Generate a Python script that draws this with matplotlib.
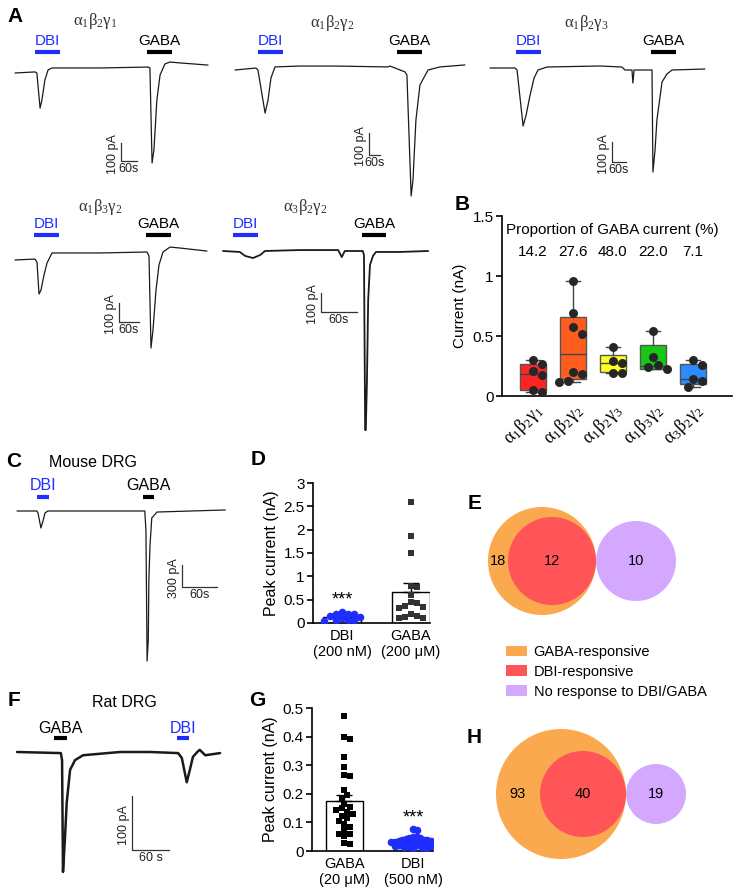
import matplotlib
matplotlib.use('Agg')
import matplotlib.pyplot as plt
import numpy as np
from matplotlib.patches import Circle, Patch

plt.rcParams['font.family'] = ['Liberation Sans', 'DejaVu Sans']
plt.rcParams['mathtext.fontset'] = 'stix'

# ---------------- data ----------------
# Panel A traces: time (s), current (pA)
A1_t = [0, 75, 82, 94, 101, 112, 124, 139, 319, 499, 506, 514, 521, 532, 544, 562, 581, 619, 724]
A1_i = [0, 6, 0, -195, -150, -39, 17, 28, 28, 33, 28, -500, -428, -150, -11, 50, 61, 56, 44]
A2_t = [0, 114, 125, 164, 180, 196, 218, 354, 545, 834, 845, 927, 937, 960, 970, 986, 1008, 1052, 1117, 1253]
A2_i = [0, 9, 0, -196, -137, -36, 14, 18, 18, 14, 18, -9, -23, -573, -500, -228, -68, 0, 14, 23]
A3_t = [0, 107, 116, 142, 155, 172, 189, 206, 245, 472, 566, 579, 609, 613, 618, 695, 699, 708, 716, 738, 759, 781, 922]
A3_i = [0, 0, -10, -290, -235, -135, -50, -10, 5, 10, 5, -10, -10, -75, -10, -10, -520, -410, -260, -70, -30, -10, -5]
A4_t = [0, 60, 66, 72, 78, 87, 96, 111, 255, 396, 402, 408, 414, 423, 432, 444, 465, 495, 576]
A4_i = [0, 5, -11, -179, -158, -79, -16, 37, 37, 42, 21, -463, -368, -158, -26, 42, 68, 63, 47]
A5_t = [0, 28, 37, 50, 62, 70, 128, 192, 198, 203, 233, 235, 237, 238, 240, 242, 245, 250, 255, 295, 342]
A5_i = [0, -5, -26, -37, -21, 0, 5, 5, -32, 0, 0, -21, -942, -942, -679, -258, -74, -26, -5, -5, 0]
A_titles = [r'$\mathregular{α_1β_2γ_1}$', r'$\mathregular{α_1β_2γ_2}$', r'$\mathregular{α_1β_2γ_3}$',
            r'$\mathregular{α_1β_3γ_2}$', r'$\mathregular{α_3β_2γ_2}$']
A_dbi_win = [(75, 169), (125, 262), (112, 219), (57, 132), (17, 58)]
A_gaba_win = [(495, 589), (883, 1019), (691, 798), (393, 468), (232, 272)]

# Panel C trace (mouse DRG)
C_t = [0, 34, 36, 41, 45, 48, 53, 219, 221, 223, 225, 226, 228, 231, 240, 357]
C_i = [0, 0, -27, -231, -122, -27, 0, 0, -258, -2040, -1754, -938, -462, -95, -14, 14]
C_dbi_win = (34, 55)
C_gaba_win = (216, 235)

# Panel F trace (rat DRG)
F_t = [0, 71, 73, 74.5, 77.8, 80.5, 86, 94, 107, 167, 215, 261, 267, 275, 280, 285, 292, 296, 305, 329]
F_i = [0, -2, -15, -222, -157, -94, -33, -15, -6, 0, 0, -2, -11, -56, -33, -9, 0, 4, -6, -2]
F_dbi_win = (259, 279)
F_gaba_win = (60, 81)

# Panel B box plots
B_labels = [r'$\mathregular{α_1β_2γ_1}$', r'$\mathregular{α_1β_2γ_2}$', r'$\mathregular{α_1β_2γ_3}$',
            r'$\mathregular{α_1β_3γ_2}$', r'$\mathregular{α_3β_2γ_2}$']
B_q1 = [0.053, 0.144, 0.20, 0.228, 0.103]
B_med = [0.186, 0.353, 0.278, 0.25, 0.144]
B_q3 = [0.27, 0.658, 0.339, 0.422, 0.27]
B_lo = [0.033, 0.117, 0.19, 0.228, 0.075]
B_hi = [0.30, 0.958, 0.408, 0.54, 0.297]
B_pts1 = [0.30, 0.264, 0.208, 0.172, 0.047, 0.033]
B_pts2 = [0.958, 0.69, 0.575, 0.519, 0.2, 0.18, 0.122, 0.117]
B_pts3 = [0.408, 0.292, 0.278, 0.192, 0.192]
B_pts4 = [0.54, 0.325, 0.256, 0.242, 0.228]
B_pts5 = [0.297, 0.256, 0.144, 0.122, 0.075]
B_prop = ['14.2', '27.6', '48.0', '22.0', '7.1']

# Panel D
D_cats = ['DBI\n(200 nM)', 'GABA\n(200 μM)']
D_dbi = [0.236, 0.2, 0.2, 0.186, 0.143, 0.129, 0.1, 0.071, 0.057, 0.057, 0.043]
D_gaba = [2.586, 1.871, 1.5, 0.786, 0.771, 0.6, 0.443, 0.43, 0.371, 0.343, 0.329,
          0.186, 0.157, 0.129, 0.114, 0.1]

# Panel G
G_cats = ['GABA\n(20 μM)', 'DBI\n(500 nM)']
G_gaba = [0.473, 0.40, 0.391, 0.328, 0.295, 0.266, 0.262, 0.213, 0.196, 0.184, 0.166, 0.155,
          0.149, 0.143, 0.135, 0.131, 0.122, 0.114, 0.105, 0.096, 0.084, 0.073, 0.06, 0.059,
          0.053, 0.028, 0.023]
G_dbi = [0.078, 0.075, 0.05, 0.048, 0.045, 0.045, 0.042, 0.04, 0.039, 0.038, 0.036, 0.036,
         0.035, 0.034, 0.033, 0.033, 0.032, 0.031, 0.03, 0.03, 0.028, 0.027, 0.026, 0.025,
         0.024, 0.022, 0.021, 0.02, 0.019, 0.018, 0.016, 0.015, 0.014, 0.012, 0.01]

# Venn counts
E_counts = [18, 12, 10]
H_counts = [93, 40, 19]
venn_labels = ['GABA-responsive', 'DBI-responsive', 'No response to DBI/GABA']

# ---------------- style ----------------
BLUE = '#1f2dff'
TRACE = '#1a1a1a'
BOX_COLORS = ['#ff2424', '#ff5c1f', '#ffff24', '#14c814', '#2b8cff']
VENN_COLORS = ['#fba94f', '#ff5458', '#d5a8ff']
SERIF = ['Liberation Serif', 'DejaVu Serif']

W, H = 738, 896
fig = plt.figure(figsize=(W / 100, H / 100), dpi=100)


def px_axes(l, t, r, b):
    return fig.add_axes([l / W, 1 - b / H, (r - l) / W, (b - t) / H])


def ftext(x, y, s, **kw):
    fig.text(x / W, 1 - y / H, s, **kw)


def draw_trace(box, x0, base, spp, ipp, t, cur, lw, dbi_win, gaba_win, bar_px, lab_px,
               corner_px, vlen, vlabel, hlabel, lab_fs=11, sc_fs=9):
    l, tp, r, b = box
    ax = px_axes(l, tp, r, b)
    ax.set_xlim((l - x0) * spp, (r - x0) * spp)
    ax.set_ylim((base - b) * ipp, (base - tp) * ipp)
    ax.axis('off')
    ax.plot(t, cur, color=TRACE, lw=lw, solid_joinstyle='round', solid_capstyle='round')
    ybar = (base - bar_px) * ipp
    ylab = (base - lab_px) * ipp
    for win, name, col in [(dbi_win, 'DBI', BLUE), (gaba_win, 'GABA', 'black')]:
        ax.plot(win, [ybar, ybar], color=col, lw=3, solid_capstyle='butt', clip_on=False)
        ax.text(np.mean(win), ylab, name, color=col, ha='center', va='center', fontsize=lab_fs)
    cx = (corner_px[0] - x0) * spp
    cy = (base - corner_px[1]) * ipp
    ax.plot([cx, cx, cx + 60], [cy + vlen, cy, cy], color='#333333', lw=0.9)
    ax.text(cx - 2 * spp, cy + vlen / 2 - 2 * ipp, vlabel, rotation=90, ha='right', va='center',
            fontsize=sc_fs, color='#222222')
    ax.text(cx + 30, cy - 2 * ipp, hlabel, ha='center', va='top', fontsize=sc_fs, color='#222222')
    return ax


# ---- Panel A ----
draw_trace((8, 30, 222, 175), 15, 73, 3.75, 5.56, A1_t, A1_i, 0.9, A_dbi_win[0], A_gaba_win[0],
           52, 41, (121, 161), 100, '100 pA', '60s')
draw_trace((228, 30, 476, 200), 235, 70, 5.45, 4.55, A2_t, A2_i, 0.9, A_dbi_win[1], A_gaba_win[1],
           52, 41, (369, 155), 100, '100 pA', '60s')
draw_trace((482, 30, 736, 180), 490, 68, 4.29, 5.0, A3_t, A3_i, 0.9, A_dbi_win[2], A_gaba_win[2],
           52, 41, (612, 162), 100, '100 pA', '60s')
draw_trace((8, 212, 222, 355), 15, 260, 3.0, 5.26, A4_t, A4_i, 0.9, A_dbi_win[3], A_gaba_win[3],
           235, 224, (119, 322), 100, '100 pA', '60s')
draw_trace((216, 212, 440, 436), 223, 251, 1.667, 5.26, A5_t, A5_i, 1.3, A_dbi_win[4], A_gaba_win[4],
           235, 224, (321, 312), 100, '100 pA', '60s')
for (x, y), s in zip([(95, 21), (332, 23), (586, 23), (100, 207), (305, 207)], A_titles):
    ftext(x, y, s, ha='center', va='center', fontsize=12, color='#333333', family=SERIF)

# ---- Panel C ----
draw_trace((8, 478, 236, 666), 17, 511, 1.714, 13.6, C_t, C_i, 0.9, C_dbi_win, C_gaba_win,
           497, 485, (182, 587), 300, '300 pA', '60s', lab_fs=11.5)
ftext(93, 462, 'Mouse DRG', ha='center', va='center', fontsize=11.5)

# ---- Panel F ----
draw_trace((8, 715, 236, 878), 17, 752, 1.62, 1.85, F_t, F_i, 1.8, F_dbi_win, F_gaba_win,
           738, 728, (132, 850), 100, '100 pA', '60 s', lab_fs=11.5)
ftext(124, 702, 'Rat DRG', ha='center', va='center', fontsize=11.5)


def style_axes(ax):
    for s in ['top', 'right']:
        ax.spines[s].set_visible(False)
    for s in ['left', 'bottom']:
        ax.spines[s].set_linewidth(1.2)
    ax.tick_params(axis='y', length=4, width=1.2, labelsize=11, pad=2)
    ax.tick_params(axis='x', length=0, labelsize=10.5, pad=4)


def swarm_offsets(values, y_ppu, x_ppu, d):
    placed = []
    offs = []
    cands = [0.0]
    for j in range(1, 80):
        cands += [j * d * 0.5, -j * d * 0.5]
    for v in values:
        y = v * y_ppu
        chosen = cands[-1]
        for c in cands:
            if all((c - px) ** 2 + (y - py) ** 2 >= d ** 2 for px, py in placed):
                chosen = c
                break
        placed.append((chosen, y))
        offs.append(chosen / x_ppu)
    return np.array(offs)


# ---- Panel B ----
axB = px_axes(502, 216, 732, 396)
stats = [dict(med=m, q1=a, q3=b, whislo=lo, whishi=hi, fliers=[])
         for m, a, b, lo, hi in zip(B_med, B_q1, B_q3, B_lo, B_hi)]
pos = np.arange(1, 6)
bp = axB.bxp(stats, positions=pos, widths=0.66, patch_artist=True, showfliers=False,
             capwidths=0.36,
             boxprops=dict(edgecolor='#555555', linewidth=1.0),
             medianprops=dict(color='#444444', linewidth=1.0),
             whiskerprops=dict(color='#444444', linewidth=1.0),
             capprops=dict(color='#444444', linewidth=1.0))
for patch, c in zip(bp['boxes'], BOX_COLORS):
    patch.set_facecolor(c)
for p, pts in zip(pos, [B_pts1, B_pts2, B_pts3, B_pts4, B_pts5]):
    off = swarm_offsets(pts, 120, 40, 9.5)
    axB.scatter(p + off, pts, s=42, color='#262626', zorder=5, linewidths=0)
axB.set_xlim(0.23, 5.98)
axB.set_ylim(0, 1.5)
axB.set_yticks([0, 0.5, 1, 1.5])
axB.set_yticklabels(['0', '0.5', '1', '1.5'])
axB.set_xticks(pos)
axB.set_xticklabels(B_labels, rotation=45, ha='right', rotation_mode='anchor', fontsize=13,
                    family=SERIF)
style_axes(axB)
axB.tick_params(axis='x', pad=3, labelsize=13)
axB.set_ylabel('Current (nA)', fontsize=11, labelpad=4)
axB.text(3, 1.383, 'Proportion of GABA current (%)', ha='center', va='center', fontsize=11)
for p, s in zip(pos, B_prop):
    axB.text(p, 1.2, s, ha='center', va='center', fontsize=11)


# ---- bar + scatter panels (D, G) ----
def bar_panel(box, ylim, yticks, cats, groups, markers, colors, fills, bar_w, swarm_d,
              sig_idx, sig_y, xlim):
    l, t, r, b = box
    ax = px_axes(l, t, r, b)
    ax.set_xlim(*xlim)
    ax.set_ylim(*ylim)
    y_ppu = (b - t) / (ylim[1] - ylim[0])
    x_ppu = (r - l) / (xlim[1] - xlim[0])
    for k, (vals, mk, col, fc, d) in enumerate(zip(groups, markers, colors, fills, swarm_d)):
        vals = np.asarray(vals)
        mean = vals.mean()
        sem = vals.std(ddof=1) / np.sqrt(len(vals))
        ax.bar(k, mean, width=bar_w, color=fc, edgecolor='black', linewidth=1.0, zorder=1)
        ax.errorbar(k, mean, yerr=[[0], [sem]], color='black', capsize=6, elinewidth=1.0,
                    capthick=1.0, zorder=2)
        off = swarm_offsets(vals, y_ppu, x_ppu, d)
        ax.scatter(k + off, vals, marker=mk, s=24 if mk == 's' else 30, color=col,
                   linewidths=0, zorder=3)
    ax.text(sig_idx, sig_y, '***', ha='center', va='center', fontsize=13)
    ax.set_yticks(yticks)
    ax.set_yticklabels(['0' if v == 0 else ('%g' % v) for v in yticks])
    ax.set_xticks([0, 1])
    ax.set_xticklabels(cats, fontsize=10.5, linespacing=1.25)
    style_axes(ax)
    ax.set_ylabel('Peak current (nA)', fontsize=11.5, labelpad=3)
    return ax


axD = bar_panel((313, 483, 430, 623), (0, 3), [0, 0.5, 1, 1.5, 2, 2.5, 3], D_cats,
                [D_dbi, D_gaba], ['o', 's'], [BLUE, '#333333'], ['white', 'white'], 0.54,
                [6.0, 6.0], 0, 0.49, (-0.42, 1.275))
axG = bar_panel((312, 708, 433, 851), (0, 0.5), [0, 0.1, 0.2, 0.3, 0.4, 0.5], G_cats,
                [G_gaba, G_dbi], ['s', 'o'], ['black', BLUE], ['white', '#e6e6e6'], 0.54,
                [5.5, 3.6], 1, 0.114, (-0.47, 1.29))


# ---- Venn panels ----
def venn(box, tangent_px, radii, counts):
    l, t, r, b = box
    ax = px_axes(l, t, r, b)
    ax.set_xlim(l - tangent_px[0], r - tangent_px[0])
    ax.set_ylim(tangent_px[1] - b, tangent_px[1] - t)
    ax.axis('off')
    ro, rr, rp = radii
    centers = [-ro, -rr, rp]
    for c, rad, col in zip(centers, radii, VENN_COLORS):
        ax.add_patch(Circle((c, 0), rad, color=col, lw=0))
    ax.text(-(ro + rr), 0, str(counts[0]), ha='center', va='center', fontsize=10.5)
    ax.text(-rr, 0, str(counts[1]), ha='center', va='center', fontsize=10.5)
    ax.text(rp, 0, str(counts[2]), ha='center', va='center', fontsize=10.5)
    return ax


venn((470, 495, 720, 625), (596, 561), (54, 44, 40), E_counts)
venn((470, 720, 720, 870), (626, 794), (65, 43, 30), H_counts)

handles = [Patch(facecolor=c, edgecolor='none') for c in VENN_COLORS]
fig.legend(handles, venn_labels, loc='upper left', bbox_to_anchor=(506 / W, 1 - 645 / H),
           frameon=False, fontsize=10.5, handlelength=1.45, handleheight=0.75,
           handletextpad=0.45, labelspacing=0.4, borderpad=0, borderaxespad=0)

# ---- panel letters ----
for s, (x, y) in zip('ABCDEFGH', [(15, 16), (462, 205), (14, 461), (258, 459), (475, 503),
                                   (14, 701), (257, 700), (474, 737)]):
    ftext(x, y, s, ha='center', va='center', fontsize=15, fontweight='bold')

fig.savefig('out.png', dpi=100)
